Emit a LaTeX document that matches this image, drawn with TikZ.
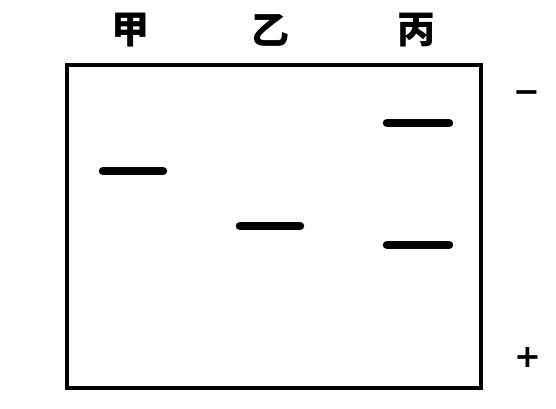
\documentclass[tikz,border=0pt]{standalone}
\usepackage{fontspec}
\newfontfamily\cjk{Noto Sans CJK SC}
\newfontfamily\signfont{DejaVu Sans}

\tikzset{
	lane/.style={font=\cjk\bfseries\fontsize{38}{38}\selectfont, inner sep=0pt},
	sign/.style={font=\signfont\bfseries\fontsize{32}{32}\selectfont, inner sep=0pt},
	band/.style={line width=8.5pt, line cap=round}
}

\begin{document}
\begin{tikzpicture}[x=1pt,y=-1pt]
	\useasboundingbox (0,0) rectangle (556,408);
	\draw [line width=3.5pt] (67,65) rectangle (481,388);
	\node [lane] (jia) at (130,30) {甲};
	\node [lane] (yi) at (270,30) {乙};
	\node [lane] (bing) at (416,30) {丙};
	\node [sign] (minus) at (527,97) {−};
	\node [sign] (plus) at (528,357) {+};
	% bands
	\draw [band] (103,171) -- (163,171);
	\draw [band] (240,226) -- (300,226);
	\foreach \y in {123,245}
		\draw [band] (387,\y) -- (449,\y);
\end{tikzpicture}
\end{document}
